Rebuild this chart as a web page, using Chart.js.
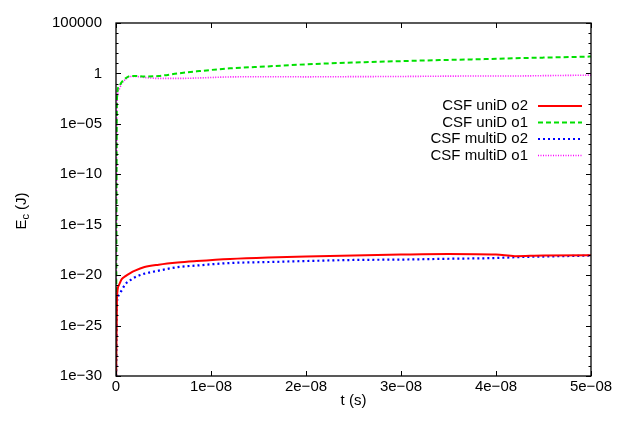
<!DOCTYPE html>
<html>
<head>
<meta charset="utf-8">
<script src="https://cdn.jsdelivr.net/npm/chart.js@4.4.1/dist/chart.umd.min.js"></script>
<style>
  html, body { margin: 0; padding: 0; background: #fff; }
  #wrap { width: 618px; height: 426px; position: relative; }
</style>
</head>
<body>
<div id="wrap"><canvas id="chart"></canvas></div>
<script>
// time in seconds
var tSec = [0, 1e-10, 3e-10, 6e-10, 1e-9, 1.5e-9, 2e-9, 3e-9, 4.5e-9, 6.5e-9, 8.5e-9,
            1.2e-8, 1.6e-8, 2.0e-8, 2.5e-8, 3.0e-8, 3.5e-8, 4.0e-8, 4.2e-8, 4.5e-8, 5.0e-8];

// kinetic energy (J)
var uniD_o2 = [1e-32, 5e-23, 1e-21, 4e-21, 8e-21, 1.6e-20, 2.8e-20, 6.3e-20, 1.1e-19, 1.8e-19, 2.5e-19,
               4e-19, 5.6e-19, 7e-19, 9e-19, 1.1e-18, 1.25e-18, 1.1e-18, 7.6e-19, 9e-19, 9.3e-19];
var uniD_o1 = [1e-32, 3e-3, 0.05, 0.14, 0.32, 0.56, 0.56, 0.5, 0.56, 1.0, 1.6,
               3.2, 5, 8, 12, 16.6, 22, 28, 32, 37, 47];
var multiD_o2 = [1e-32, 2e-23, 1e-22, 3.2e-22, 1.3e-21, 3.2e-21, 6.3e-21, 1.4e-20, 2.8e-20, 6.3e-20, 9e-20,
                 1.6e-19, 2e-19, 2.5e-19, 3.2e-19, 3.5e-19, 4.2e-19, 5e-19, 6e-19, 7e-19, 8.7e-19];
var multiD_o1 = [1e-32, 1e-3, 0.025, 0.1, 0.25, 0.5, 0.5, 0.4, 0.32, 0.32, 0.35,
                 0.45, 0.47, 0.46, 0.48, 0.5, 0.54, 0.56, 0.56, 0.6, 0.68];

var seriesNames = ['CSF uniD o2', 'CSF uniD o1', 'CSF multiD o2', 'CSF multiD o1'];

var xTickValues = [0, 1e-8, 2e-8, 3e-8, 4e-8, 5e-8];
var xTickLabels = ['0', '1e\u221208', '2e\u221208', '3e\u221208', '4e\u221208', '5e\u221208'];
var yTickValues = [1e-30, 1e-25, 1e-20, 1e-15, 1e-10, 1e-5, 1, 1e5];
var yTickLabels = ['1e\u221230', '1e\u221225', '1e\u221220', '1e\u221215', '1e\u221210', '1e\u221205', '1', '100000'];

var FONT = 'Liberation Sans, Arial, Helvetica, sans-serif';

function pts(ys) {
    return tSec.map(function (t, i) { return { x: t, y: ys[i] }; });
}

// gnuplot-like frame, inward mirrored ticks, legend and axis titles
var gnuFrame = {
    id: 'gnuFrame',
    afterDraw: function (chart) {
        var ctx = chart.ctx, a = chart.chartArea;
        var xs = chart.scales.x, ys = chart.scales.y;
        ctx.save();
        ctx.strokeStyle = '#000';
        ctx.lineWidth = 1.3;
        ctx.strokeRect(a.left, a.top, a.right - a.left, a.bottom - a.top);

        ctx.lineWidth = 1;
        ctx.beginPath();
        xTickValues.forEach(function (v) {
            var px = Math.round(xs.getPixelForValue(v)) + 0.5;
            ctx.moveTo(px, a.bottom); ctx.lineTo(px, a.bottom - 5);
            ctx.moveTo(px, a.top); ctx.lineTo(px, a.top + 5);
        });
        for (var e = -30; e <= 5; e++) {
            var py = Math.round(ys.getPixelForValue(Math.pow(10, e))) + 0.5;
            var len = (e % 5 === 0) ? 5 : 2.5;
            ctx.moveTo(a.left, py); ctx.lineTo(a.left + len, py);
            ctx.moveTo(a.right, py); ctx.lineTo(a.right - len, py);
        }
        ctx.stroke();

        // legend
        ctx.font = '15px ' + FONT;
        ctx.fillStyle = '#000';
        ctx.textAlign = 'right';
        ctx.textBaseline = 'middle';
        chart.data.datasets.forEach(function (ds, i) {
            var y = 106 + i * 16.5;
            ctx.fillText(ds.label, 528, y);
            ctx.save();
            ctx.strokeStyle = ds.borderColor;
            ctx.lineWidth = ds.borderWidth;
            ctx.setLineDash(ds.borderDash || []);
            ctx.beginPath();
            ctx.moveTo(538, y); ctx.lineTo(582, y);
            ctx.stroke();
            ctx.restore();
        });

        // x title
        ctx.textAlign = 'center';
        ctx.fillText('t (s)', (a.left + a.right) / 2, 401);

        // y title with subscript
        ctx.translate(22, 211);
        ctx.rotate(-Math.PI / 2);
        ctx.textAlign = 'left';
        var w1 = ctx.measureText('E').width;
        ctx.font = '11px ' + FONT;
        var w2 = ctx.measureText('c').width;
        ctx.font = '15px ' + FONT;
        var w3 = ctx.measureText(' (J)').width;
        var x0 = -(w1 + w2 + w3) / 2;
        ctx.fillText('E', x0, 0);
        ctx.font = '11px ' + FONT;
        ctx.fillText('c', x0 + w1, 4);
        ctx.font = '15px ' + FONT;
        ctx.fillText(' (J)', x0 + w1 + w2, 0);
        ctx.restore();
    }
};

new Chart(document.getElementById('chart'), {
    type: 'line',
    data: {
        datasets: [{
            label: seriesNames[0],
            data: pts(uniD_o2),
            borderColor: '#ff0000',
            borderWidth: 2
        }, {
            label: seriesNames[1],
            data: pts(uniD_o1),
            borderColor: '#00e000',
            borderWidth: 2,
            borderDash: [5, 3]
        }, {
            label: seriesNames[2],
            data: pts(multiD_o2),
            borderColor: '#0000ff',
            borderWidth: 2.2,
            borderDash: [2, 3]
        }, {
            label: seriesNames[3],
            data: pts(multiD_o1),
            borderColor: '#ff00ff',
            borderWidth: 1.6,
            borderDash: [1, 1.5]
        }]
    },
    options: {
        responsive: true,
        maintainAspectRatio: false,
        animation: false,
        layout: { padding: { left: 0, top: 17, right: 27, bottom: 0 } },
        elements: {
            point: { radius: 0 },
            line: { cubicInterpolationMode: 'monotone', fill: false }
        },
        plugins: {
            legend: { display: false },
            tooltip: { enabled: false }
        },
        scales: {
            x: {
                type: 'linear',
                min: 0,
                max: 5e-8,
                grid: { display: false, drawTicks: false },
                border: { display: false },
                afterBuildTicks: function (s) {
                    s.ticks = xTickValues.map(function (v) { return { value: v }; });
                },
                afterFit: function (s) { s.height = 50; },
                ticks: {
                    autoSkip: false,
                    maxRotation: 0,
                    padding: 2,
                    color: '#000',
                    font: { family: FONT, size: 15 },
                    callback: function (v, i) { return xTickLabels[i]; }
                }
            },
            y: {
                type: 'logarithmic',
                min: 1e-30,
                max: 1e5,
                grid: { display: false, drawTicks: false },
                border: { display: false },
                afterBuildTicks: function (s) {
                    s.ticks = yTickValues.map(function (v) { return { value: v }; });
                },
                afterFit: function (s) { s.width = 116; },
                ticks: {
                    autoSkip: false,
                    padding: 14,
                    color: '#000',
                    font: { family: FONT, size: 15 },
                    callback: function (v, i) { return yTickLabels[i]; }
                }
            }
        }
    },
    plugins: [gnuFrame]
});
</script>
</body>
</html>
